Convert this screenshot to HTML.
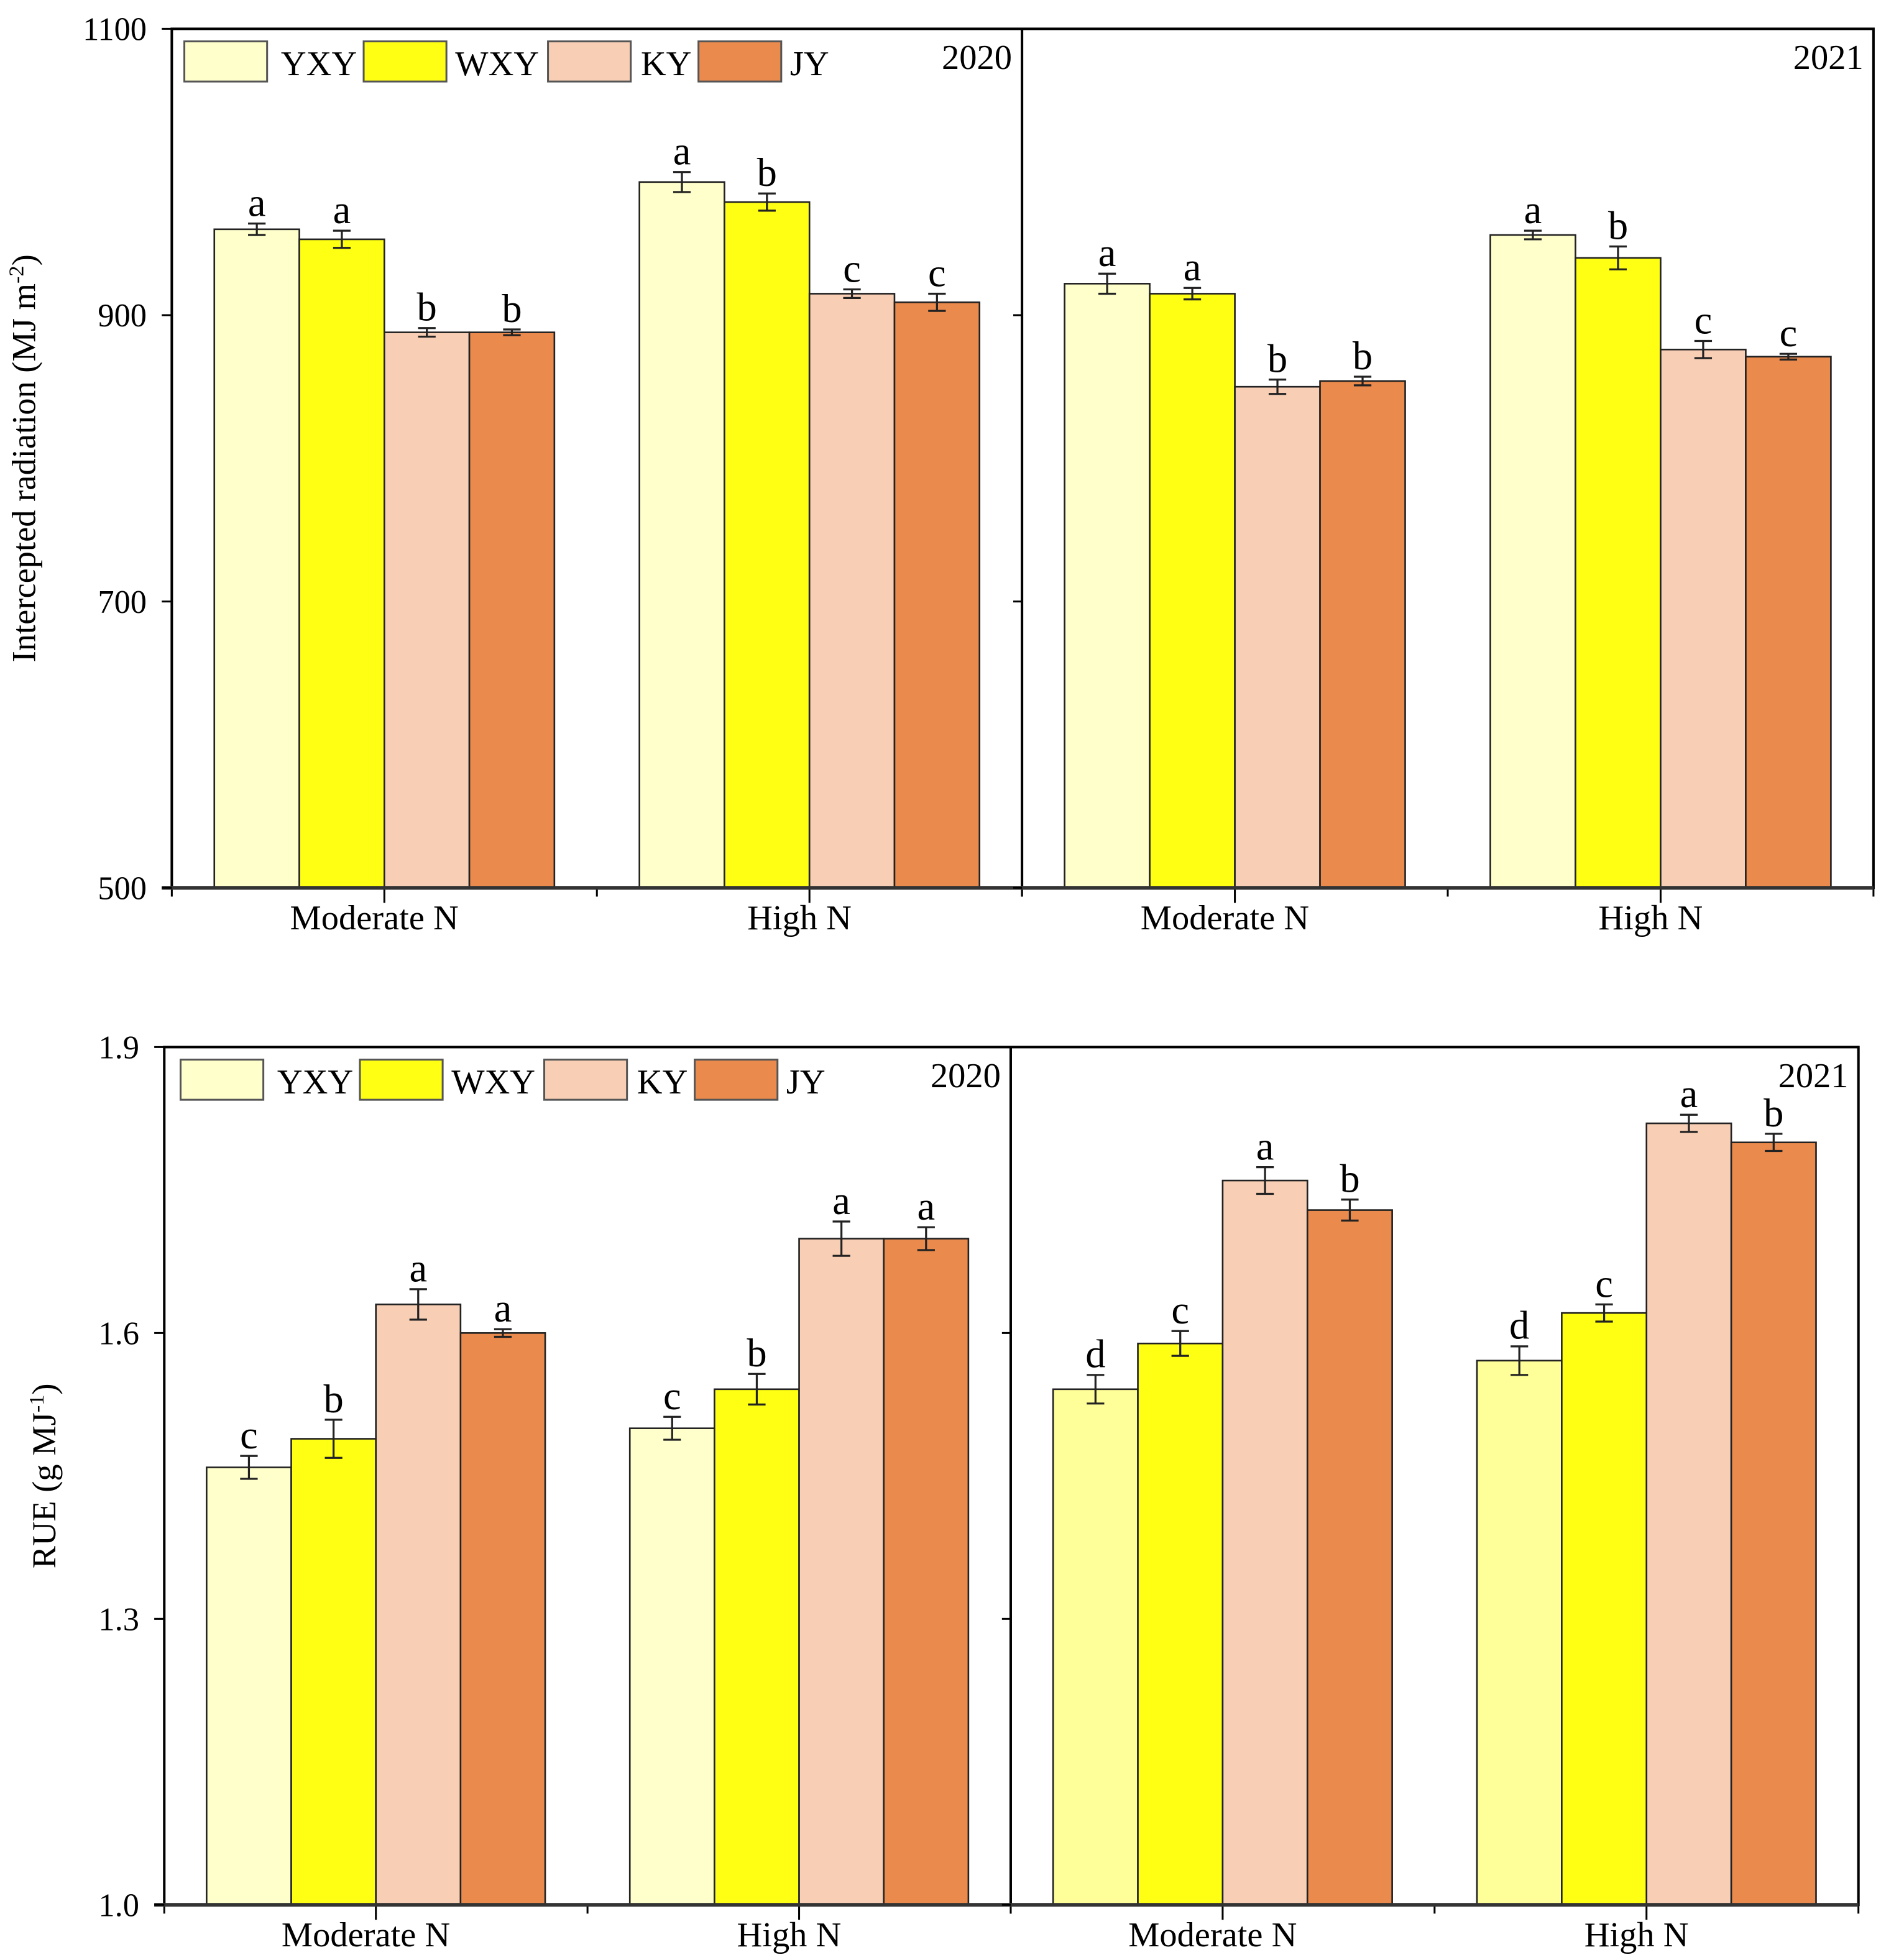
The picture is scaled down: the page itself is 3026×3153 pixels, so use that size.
<!DOCTYPE html>
<html><head><meta charset="utf-8"><style>
html,body{margin:0;padding:0;background:#fff;}
svg{display:block;}
text{font-family:"Liberation Serif",serif;fill:#000;}
</style></head><body>
<svg id="chart" width="3026" height="3153" viewBox="0 0 1500 1563" preserveAspectRatio="none" xmlns="http://www.w3.org/2000/svg"></svg>
<script>
const categories = ["Moderate N", "High N"];
const cultivars = ["YXY", "WXY", "KY", "JY"];
const years = ["2020", "2021"];
const irValues2020 = [[960, 953, 888, 888], [993, 979, 915, 909]];
const irValues2021 = [[922, 915, 850, 854], [956, 940, 876, 871]];
const irErr2020 = [[4, 6, 3, 2], [7, 6, 3, 6]];
const irErr2021 = [[7, 4, 5, 3], [3, 8, 6, 2]];
const irLetters2020 = [["a","a","b","b"],["a","b","c","c"]];
const irLetters2021 = [["a","a","b","b"],["a","b","c","c"]];
const irTicks = [500, 700, 900, 1100];
const rueValues2020 = [[1.459, 1.489, 1.630, 1.600], [1.500, 1.541, 1.699, 1.699]];
const rueValues2021 = [[1.541, 1.589, 1.760, 1.729], [1.571, 1.621, 1.820, 1.800]];
const rueErr2020 = [[0.012, 0.02, 0.016, 0.004], [0.012, 0.016, 0.018, 0.012]];
const rueErr2021 = [[0.015, 0.013, 0.014, 0.011], [0.015, 0.009, 0.009, 0.009]];
const rueLetters2020 = [["c","b","a","a"],["c","b","a","a"]];
const rueLetters2021 = [["d","c","a","b"],["d","c","a","b"]];
const rueTicks = ["1.0", "1.3", "1.6", "1.9"];

const NS = "http://www.w3.org/2000/svg";
const svg = document.getElementById("chart");
function mk(tag, attrs, parent) {
  const e = document.createElementNS(NS, tag);
  for (const k in attrs) e.setAttribute(k, attrs[k]);
  (parent || svg).appendChild(e);
  return e;
}
const colorsPale = ["#FFFFCC", "#FFFF14", "#F8CFB5", "#EB8A4D"];
const colorsBright = ["#FFFF99", "#FFFF14", "#F8CFB5", "#EB8A4D"];

function panel(cfg) {
  const g = mk("g", {});
  
  
  const {L, R, D, T, B, ymin, ymax} = cfg;
  const y = v => B - (v - ymin) / (ymax - ymin) * (B - T);
  const halves = [[L, D], [D, R]];
  const vals = [cfg.v20, cfg.v21], errs = [cfg.e20, cfg.e21], lets = [cfg.l20, cfg.l21];
  halves.forEach((h, yi) => {
    const w = h[1] - h[0], gw = w / 2;
    const cols = cfg.cols[yi];
    categories.forEach((cat, gi) => {
      const gc = h[0] + gw * gi + gw / 2;
      const bw = gw * 0.2;
      cultivars.forEach((cv, ci) => {
        const v = vals[yi][gi][ci];
        const x0 = gc - 2 * bw + ci * bw;
        const top = y(v);
        const r = mk("rect", {x: x0, y: top, width: bw, height: B - top,
          fill: cols[ci], stroke: "#222", "stroke-width": 1.3}, g);
        
        
        const e = errs[yi][gi][ci];
        const cx = x0 + bw / 2, yt = y(v + e), yb = y(v - e);
        const eb = mk("path", {d: `M${cx},${yt}V${yb}M${cx-7},${yt}H${cx+7}M${cx-7},${yb}H${cx+7}`, stroke: "#222", "stroke-width": 1.6, fill: "none"}, g);
        
        
        const t = mk("text", {x: cx, y: yt - 6, "text-anchor": "middle", "font-size": 32}, g);
        t.textContent = lets[yi][gi][ci];
        
        
      });
      mk("line", {x1: gc, x2: gc, y1: B, y2: B + 12, stroke: "#000", "stroke-width": 1.5}, g);
      const cl = mk("text", {x: gc - 8, y: B + 33, "text-anchor": "middle", "font-size": 28}, g);
      cl.textContent = cat;
      
      
    });
    [h[0], h[0] + gw, h[1]].forEach(xx => mk("line", {x1: xx, x2: xx, y1: B, y2: B + 7, stroke: "#000", "stroke-width": 1.5}, g));
    const yr = mk("text", {x: h[1] - 8, y: T + 32, "text-anchor": "end", "font-size": 28}, g);
    yr.textContent = years[yi];
    
    
  });
  mk("rect", {x: L, y: T, width: R - L, height: B - T, fill: "none", stroke: "#000", "stroke-width": 2}, g);
  mk("line", {x1: D, x2: D, y1: T, y2: B, stroke: "#000", "stroke-width": 2}, g);
  mk("line", {x1: L - 8, x2: R, y1: B, y2: B, stroke: "#333", "stroke-width": 3}, g);
  cfg.ticks.forEach(tk => {
    const yy = y(parseFloat(tk));
    mk("line", {x1: L - 8, x2: L, y1: yy, y2: yy, stroke: "#000", "stroke-width": 1.5}, g);
    mk("line", {x1: D, x2: D - 7, y1: yy, y2: yy, stroke: "#000", "stroke-width": 1.5}, g);
    const t = mk("text", {x: L - 20, y: yy + 9, "text-anchor": "end", "font-size": 26}, g);
    t.textContent = tk;
    
    
  });
  const lx = cfg.legX, ly = T + 10;
  const offs = [[0, 77], [143, 216], [290, 364], [410, 483]];
  cultivars.forEach((cv, ci) => {
    const r = mk("rect", {x: lx + offs[ci][0], y: ly, width: 66, height: 32, fill: colorsPale[ci], stroke: "#555", "stroke-width": 1.5}, g);
    
    
    const t = mk("text", {x: lx + offs[ci][1], y: ly + 27, "font-size": 28}, g);
    t.textContent = cv;
    
    
  });
  const yt = mk("text", {transform: `translate(${cfg.titleX},${(T + B) / 2}) rotate(-90)`, "text-anchor": "middle", "font-size": 27}, g);
  yt.innerHTML = cfg.title;
  
  
}

panel({name: "intercepted-radiation-panel", L: 137, R: 1494, D: 815, T: 23, B: 708, ymin: 500, ymax: 1100,
  v20: irValues2020, v21: irValues2021, e20: irErr2020, e21: irErr2021, l20: irLetters2020, l21: irLetters2021,
  cols: [colorsPale, colorsPale],
  ticks: irTicks.map(String), legX: 147, titleX: 28,
  title: 'Intercepted radiation (MJ m<tspan baseline-shift="super" font-size="17">-2</tspan>)'});
panel({name: "rue-panel", L: 131, R: 1482, D: 806, T: 835, B: 1519, ymin: 1.0, ymax: 1.9,
  v20: rueValues2020, v21: rueValues2021, e20: rueErr2020, e21: rueErr2021, l20: rueLetters2020, l21: rueLetters2021,
  cols: [colorsPale, colorsBright],
  ticks: rueTicks, legX: 144, titleX: 44,
  title: 'RUE (g MJ<tspan baseline-shift="super" font-size="17">-1</tspan>)'});
</script>
</body></html>
